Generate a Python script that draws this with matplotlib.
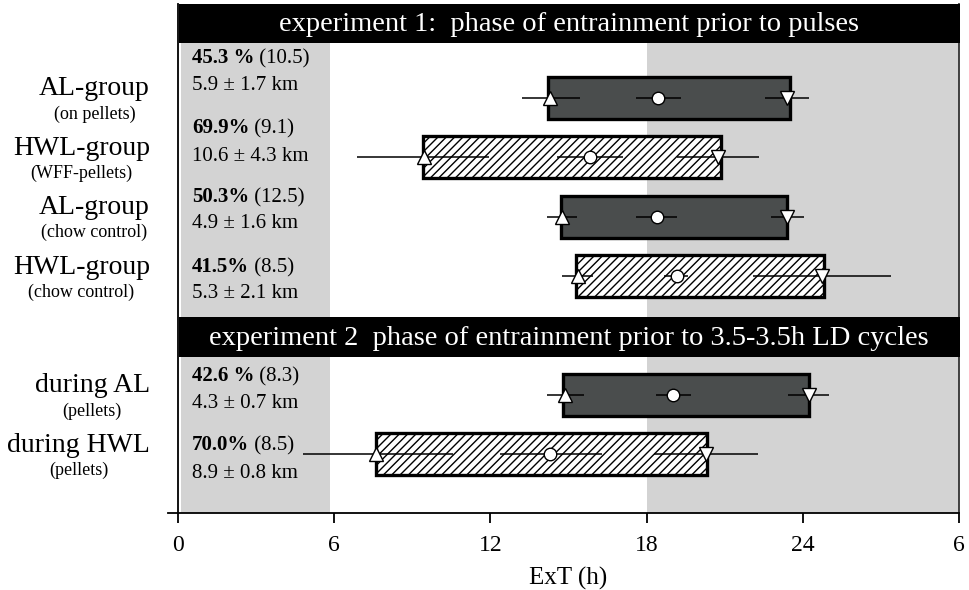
import matplotlib
matplotlib.use("Agg")
import matplotlib.pyplot as plt
from matplotlib.lines import Line2D
from matplotlib.patches import Rectangle

plt.rcParams['font.family'] = ['Liberation Serif', 'DejaVu Serif']
plt.rcParams['hatch.linewidth'] = 1.0

# ---------------- data ----------------
groups = ["AL-group", "HWL-group", "AL-group", "HWL-group", "during AL", "during HWL"]
subtitles = ["(on pellets)", "(WFF-pellets)", "(chow control)", "(chow control)", "(pellets)", "(pellets)"]
pct_text = ["45.3 %", "69.9%", "50.3%", "41.5%", "42.6 %", "70.0%"]
sd_text = ["(10.5)", "(9.1)", "(12.5)", "(8.5)", "(8.3)", "(8.5)"]
km_text = ["5.9 \u00b1 1.7 km", "10.6 \u00b1 4.3 km", "4.9 \u00b1 1.6 km", "5.3 \u00b1 2.1 km",
           "4.3 \u00b1 0.7 km", "8.9 \u00b1 0.8 km"]
experiment = [1, 1, 1, 1, 2, 2]
hatched = [False, True, False, True, False, True]

bar_start = [14.2, 9.4, 14.7, 15.3, 14.8, 7.6]
bar_end = [23.5, 20.85, 23.4, 24.8, 24.25, 20.3]

onset = [14.3, 9.43, 14.76, 15.35, 14.88, 7.6]
onset_lo = [13.22, 6.87, 14.18, 14.74, 14.18, 4.82]
onset_hi = [15.43, 11.96, 15.33, 15.95, 15.59, 10.55]

mid = [18.43, 15.82, 18.38, 19.15, 19.03, 14.28]
mid_lo = [17.58, 14.57, 17.6, 18.67, 18.37, 12.36]
mid_hi = [19.31, 17.08, 19.15, 19.6, 19.72, 16.3]

offset = [23.38, 20.74, 23.38, 24.73, 24.24, 20.27]
offset_lo = [22.55, 19.15, 22.77, 22.07, 23.44, 18.28]
offset_hi = [24.22, 22.3, 24.03, 27.38, 25.01, 22.26]

headers = ["experiment 1:  phase of entrainment prior to pulses",
           "experiment 2  phase of entrainment prior to 3.5-3.5h LD cycles"]

xticks = [0, 6, 12, 18, 24, 30]
xticklabels = ["0", "6", "12", "18", "24", "6"]
dark_start, dark_end = 18, 30
light_gray_end = 5.85

# ---------------- layout ----------------
# per-row offsets (in row units) of the two statistics lines
stat_dy1 = [-0.67, -0.49, -0.33, -0.15, -0.31, -0.15]
stat_dy2 = [-0.21, -0.02, 0.12, 0.29, 0.15, 0.32]

fig = plt.figure(figsize=(9.7, 5.9), dpi=100)
ax = fig.add_axes([0.1835, 0.1305, 0.8052, 0.8627])

# row positions: gap between experiments
rows = []
pos = 0
prev = experiment[0]
for e in experiment:
    if e != prev:
        pos += 1
        prev = e
    rows.append(pos)
    pos += 1

ax.set_xlim(0, 30)
ax.set_ylim(6.99, -1.58)

hdr1 = (-1.58, -0.92)
hdr2 = (3.69, 4.37)

gray = "#d3d3d3"
ax.add_patch(Rectangle((0.12, hdr1[1]), light_gray_end - 0.12, 6.99 - hdr1[1],
                       facecolor=gray, edgecolor='none', zorder=0))
ax.add_patch(Rectangle((dark_start, hdr1[1]), dark_end - dark_start, 6.99 - hdr1[1],
                       facecolor=gray, edgecolor='none', zorder=0))

# headers
for (y0, y1), txt in zip([hdr1, hdr2], headers):
    ax.add_patch(Rectangle((0.05, y0), 30, y1 - y0, facecolor='black',
                           edgecolor='none', zorder=5, clip_on=False))
    ax.text(15, (y0 + y1) / 2 + 0.02, txt, color='white', ha='center', va='center',
            fontsize=20.5, zorder=6)

bar_h = 0.71
for i, y in enumerate(rows):
    if hatched[i]:
        ax.barh(y, bar_end[i] - bar_start[i], left=bar_start[i], height=bar_h,
                facecolor='white', edgecolor='black', hatch='////', linewidth=2.4, zorder=2)
    else:
        ax.barh(y, bar_end[i] - bar_start[i], left=bar_start[i], height=bar_h,
                facecolor='#4a4d4d', edgecolor='black', linewidth=2.4, zorder=2)
    for lo, hi in [(onset_lo[i], onset_hi[i]), (mid_lo[i], mid_hi[i]), (offset_lo[i], offset_hi[i])]:
        ax.plot([lo, hi], [y, y], color='black', lw=1.1, zorder=3, solid_capstyle='butt')
    ax.plot(onset[i], y, marker='^', ms=10, mfc='white', mec='black', mew=1.0, zorder=4)
    ax.plot(offset[i], y, marker='v', ms=10, mfc='white', mec='black', mew=1.0, zorder=4)
    ax.plot(mid[i], y, marker='o', ms=9, mfc='white', mec='black', mew=1.0, zorder=4)

    # group labels
    t = ax.text(-1.08, y - 0.15, groups[i], ha='right', va='center', fontsize=20, clip_on=False)
    ax.annotate(subtitles[i], xy=(0.5, y + 0.27), xycoords=(t, 'data'),
                ha='center', va='center', fontsize=13, annotation_clip=False)

    # statistics
    t1 = ax.text(0.53, y + stat_dy1[i], pct_text[i], ha='left', va='center', fontsize=15,
                 fontweight='bold', zorder=6)
    ax.annotate(" " + sd_text[i], xy=(1, 0), xycoords=t1, ha='left', va='bottom',
                fontsize=15, zorder=6)
    ax.text(0.53, y + stat_dy2[i], km_text[i], ha='left', va='center', fontsize=15, zorder=6)

# axes styling
for s in ['top', 'bottom']:
    ax.spines[s].set_visible(False)
ax.spines['left'].set_linewidth(1.3)
ax.spines['right'].set_linewidth(1.3)
ax.spines['right'].set_color('#333333')
ax.add_line(Line2D([-0.013, 1.0], [0, 0], transform=ax.transAxes, color='black',
                   lw=1.3, clip_on=False, zorder=7))

ax.set_yticks([])
ax.set_xticks(xticks)
ax.set_xticklabels(xticklabels, fontsize=17)
ax.tick_params(axis='x', direction='out', length=7, width=1.3, pad=9)
ax.set_xlabel("ExT (h)", fontsize=18, labelpad=8)

fig.savefig("out.png", dpi=100)
